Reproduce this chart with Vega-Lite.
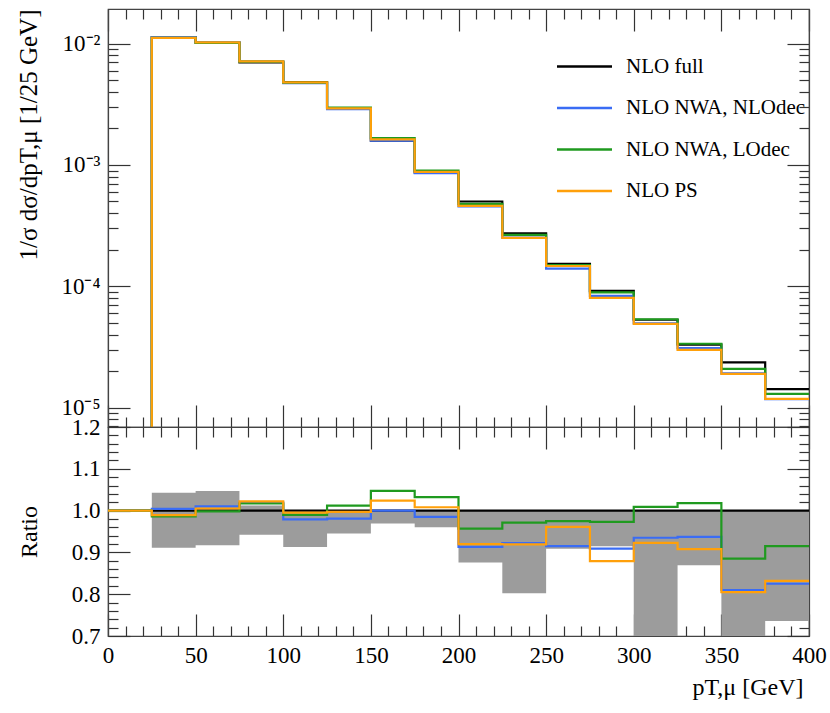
{
  "$schema": "https://vega.github.io/schema/vega-lite/v6.json",
  "background": "white",
  "padding": {"left": 15, "top": 7, "right": 10, "bottom": 10},
  "spacing": 0,
  "bounds": "flush",
  "config": {
    "font": "Liberation Serif",
    "view": {"stroke": "#444", "strokeWidth": 1.2},
    "axis": {"grid": false, "domainColor": "#444", "domainWidth": 1.2, "tickColor": "#333", "tickWidth": 1.2, "labelFontSize": 23, "titleFontSize": 24, "titleFontWeight": "normal", "labelColor": "#000", "titleColor": "#000", "labelOverlap": false, "labelFlush": false, "labelBound": false},
    "legend": {"labelFont": "Liberation Serif"}
  },
  "datasets": {
    "main": [
      {"s": "NLO full", "x": 0, "v": 1e-9, "r": 1},
      {"s": "NLO full", "x": 25, "v": 0.0113, "r": 1},
      {"s": "NLO full", "x": 50, "v": 0.01018, "r": 1},
      {"s": "NLO full", "x": 75, "v": 0.0070, "r": 1},
      {"s": "NLO full", "x": 100, "v": 0.00482, "r": 1},
      {"s": "NLO full", "x": 125, "v": 0.00294, "r": 1},
      {"s": "NLO full", "x": 150, "v": 0.00159, "r": 1},
      {"s": "NLO full", "x": 175, "v": 0.00087, "r": 1},
      {"s": "NLO full", "x": 200, "v": 0.0005, "r": 1},
      {"s": "NLO full", "x": 225, "v": 0.000273, "r": 1},
      {"s": "NLO full", "x": 250, "v": 0.000153, "r": 1},
      {"s": "NLO full", "x": 275, "v": 0.0000915, "r": 1},
      {"s": "NLO full", "x": 300, "v": 0.000053, "r": 1},
      {"s": "NLO full", "x": 325, "v": 0.000033, "r": 1},
      {"s": "NLO full", "x": 350, "v": 0.0000236, "r": 1},
      {"s": "NLO full", "x": 375, "v": 0.0000142, "r": 1},
      {"s": "NLO full", "x": 400, "v": 0.0000142, "r": 1},
      {"s": "NLO NWA, NLOdec", "x": 0, "v": 1e-9, "r": 1},
      {"s": "NLO NWA, NLOdec", "x": 25, "v": 0.011345, "r": 1.004},
      {"s": "NLO NWA, NLOdec", "x": 50, "v": 0.010282, "r": 1.010},
      {"s": "NLO NWA, NLOdec", "x": 75, "v": 0.007133, "r": 1.019},
      {"s": "NLO NWA, NLOdec", "x": 100, "v": 0.004719, "r": 0.979},
      {"s": "NLO NWA, NLOdec", "x": 125, "v": 0.002884, "r": 0.981},
      {"s": "NLO NWA, NLOdec", "x": 150, "v": 0.00159, "r": 1.0},
      {"s": "NLO NWA, NLOdec", "x": 175, "v": 0.000857, "r": 0.985},
      {"s": "NLO NWA, NLOdec", "x": 200, "v": 0.0004565, "r": 0.913},
      {"s": "NLO NWA, NLOdec", "x": 225, "v": 0.0002517, "r": 0.922},
      {"s": "NLO NWA, NLOdec", "x": 250, "v": 0.00014, "r": 0.915},
      {"s": "NLO NWA, NLOdec", "x": 275, "v": 0.0000832, "r": 0.909},
      {"s": "NLO NWA, NLOdec", "x": 300, "v": 0.00004956, "r": 0.935},
      {"s": "NLO NWA, NLOdec", "x": 325, "v": 0.00003092, "r": 0.937},
      {"s": "NLO NWA, NLOdec", "x": 350, "v": 0.00001912, "r": 0.810},
      {"s": "NLO NWA, NLOdec", "x": 375, "v": 0.00001172, "r": 0.825},
      {"s": "NLO NWA, NLOdec", "x": 400, "v": 0.00001172, "r": 0.825},
      {"s": "NLO NWA, LOdec", "x": 0, "v": 1e-9, "r": 1},
      {"s": "NLO NWA, LOdec", "x": 25, "v": 0.011142, "r": 0.986},
      {"s": "NLO NWA, LOdec", "x": 50, "v": 0.01016, "r": 0.998},
      {"s": "NLO NWA, LOdec", "x": 75, "v": 0.007119, "r": 1.017},
      {"s": "NLO NWA, LOdec", "x": 100, "v": 0.004772, "r": 0.990},
      {"s": "NLO NWA, LOdec", "x": 125, "v": 0.002975, "r": 1.012},
      {"s": "NLO NWA, LOdec", "x": 150, "v": 0.001665, "r": 1.047},
      {"s": "NLO NWA, LOdec", "x": 175, "v": 0.000898, "r": 1.032},
      {"s": "NLO NWA, LOdec", "x": 200, "v": 0.0004785, "r": 0.957},
      {"s": "NLO NWA, LOdec", "x": 225, "v": 0.0002651, "r": 0.971},
      {"s": "NLO NWA, LOdec", "x": 250, "v": 0.0001492, "r": 0.975},
      {"s": "NLO NWA, LOdec", "x": 275, "v": 0.000089, "r": 0.973},
      {"s": "NLO NWA, LOdec", "x": 300, "v": 0.00005348, "r": 1.009},
      {"s": "NLO NWA, LOdec", "x": 325, "v": 0.00003359, "r": 1.018},
      {"s": "NLO NWA, LOdec", "x": 350, "v": 0.00002089, "r": 0.885},
      {"s": "NLO NWA, LOdec", "x": 375, "v": 0.00001299, "r": 0.915},
      {"s": "NLO NWA, LOdec", "x": 400, "v": 0.00001299, "r": 0.915},
      {"s": "NLO PS", "x": 0, "v": 1e-9, "r": 1},
      {"s": "NLO PS", "x": 25, "v": 0.011176, "r": 0.989},
      {"s": "NLO PS", "x": 50, "v": 0.010231, "r": 1.005},
      {"s": "NLO PS", "x": 75, "v": 0.007154, "r": 1.022},
      {"s": "NLO PS", "x": 100, "v": 0.004796, "r": 0.995},
      {"s": "NLO PS", "x": 125, "v": 0.002931, "r": 0.997},
      {"s": "NLO PS", "x": 150, "v": 0.001628, "r": 1.024},
      {"s": "NLO PS", "x": 175, "v": 0.000877, "r": 1.008},
      {"s": "NLO PS", "x": 200, "v": 0.00046, "r": 0.920},
      {"s": "NLO PS", "x": 225, "v": 0.0002509, "r": 0.919},
      {"s": "NLO PS", "x": 250, "v": 0.000147, "r": 0.961},
      {"s": "NLO PS", "x": 275, "v": 0.0000804, "r": 0.879},
      {"s": "NLO PS", "x": 300, "v": 0.00004892, "r": 0.923},
      {"s": "NLO PS", "x": 325, "v": 0.00002996, "r": 0.908},
      {"s": "NLO PS", "x": 350, "v": 0.000019, "r": 0.805},
      {"s": "NLO PS", "x": 375, "v": 0.00001181, "r": 0.832},
      {"s": "NLO PS", "x": 400, "v": 0.00001181, "r": 0.832}
    ],
    "band": [
      {"x": 25, "lo": 0.911, "hi": 1.043},
      {"x": 50, "lo": 0.917, "hi": 1.047},
      {"x": 75, "lo": 0.942, "hi": 1.012},
      {"x": 100, "lo": 0.913, "hi": 1.0},
      {"x": 125, "lo": 0.945, "hi": 1.0},
      {"x": 150, "lo": 0.969, "hi": 1.0},
      {"x": 175, "lo": 0.960, "hi": 1.0},
      {"x": 200, "lo": 0.876, "hi": 1.0},
      {"x": 225, "lo": 0.802, "hi": 1.0},
      {"x": 250, "lo": 0.909, "hi": 1.0},
      {"x": 275, "lo": 0.915, "hi": 1.0},
      {"x": 300, "lo": 0.6, "hi": 1.0},
      {"x": 325, "lo": 0.869, "hi": 1.0},
      {"x": 350, "lo": 0.6, "hi": 1.0},
      {"x": 375, "lo": 0.736, "hi": 1.0},
      {"x": 400, "lo": 0.736, "hi": 1.0}
    ]
  },
  "vconcat": [
    {
      "width": 701,
      "height": 418,
      "data": {"name": "main"},
      "resolve": {"axis": {"x": "independent", "y": "independent"}},
      "layer": [
        {
          "mark": {"type": "line", "interpolate": "step-after", "strokeWidth": 2.2, "clip": true},
          "encoding": {
            "x": {"field": "x", "type": "quantitative", "scale": {"domain": [0, 400], "nice": false, "zero": false},
              "axis": {"orient": "bottom", "values": [0,10,20,30,40,50,60,70,80,90,100,110,120,130,140,150,160,170,180,190,200,210,220,230,240,250,260,270,280,290,300,310,320,330,340,350,360,370,380,390,400], "labels": false, "title": null,
                "tickSize": {"condition": {"test": "datum.value % 50 == 0", "value": -22}, "value": -10}}},
            "y": {"field": "v", "type": "quantitative", "scale": {"type": "log", "domain": [0.00000692, 0.0193], "nice": false},
              "axis": {"orient": "left", "values": [0.000007,0.000008,0.000009,0.00001,0.00002,0.00003,0.00004,0.00005,0.00006,0.00007,0.00008,0.00009,0.0001,0.0002,0.0003,0.0004,0.0005,0.0006,0.0007,0.0008,0.0009,0.001,0.002,0.003,0.004,0.005,0.006,0.007,0.008,0.009,0.01],
                "tickSize": {"condition": {"test": "abs(log(datum.value)/LN10 - round(log(datum.value)/LN10)) < 0.001", "value": -22}, "value": -10},
                "labelExpr": "datum.value == 0.01 ? '10⁻²' : datum.value == 0.001 ? '10⁻³' : datum.value == 0.0001 ? '10⁻⁴' : datum.value == 0.00001 ? '10⁻⁵' : ''",
                "labelPadding": 30,
                "title": "1/σ dσ/dpT,μ [1/25 GeV]", "titleFontSize": 25, "titleAnchor": "end", "titleX": -80, "titleY": 0, "titleBaseline": "middle", "titleAngle": -90, "titleAlign": "right"}},
            "color": {"field": "s", "type": "nominal", "sort": null,
              "scale": {"domain": ["NLO full", "NLO NWA, NLOdec", "NLO NWA, LOdec", "NLO PS"], "range": ["#000000", "#3a6cf4", "#1f9a1f", "#ffa00a"]},
              "legend": {"title": null, "orient": "none", "legendX": 466, "legendY": 47, "symbolType": "M-5,0H5", "symbolSize": 121, "symbolStrokeWidth": 2.5, "labelFontSize": 21, "labelOffset": 31, "rowPadding": 19.5, "labelLimit": 400}}
          }
        },
        {
          "mark": {"type": "point", "opacity": 0, "clip": true},
          "encoding": {
            "x": {"field": "x", "type": "quantitative",
              "axis": {"orient": "top", "values": [0,10,20,30,40,50,60,70,80,90,100,110,120,130,140,150,160,170,180,190,200,210,220,230,240,250,260,270,280,290,300,310,320,330,340,350,360,370,380,390,400], "labels": false, "title": null,
                "tickSize": {"condition": {"test": "datum.value % 50 == 0", "value": -22}, "value": -10}}},
            "y": {"field": "v", "type": "quantitative",
              "axis": {"orient": "right", "values": [0.000007,0.000008,0.000009,0.00001,0.00002,0.00003,0.00004,0.00005,0.00006,0.00007,0.00008,0.00009,0.0001,0.0002,0.0003,0.0004,0.0005,0.0006,0.0007,0.0008,0.0009,0.001,0.002,0.003,0.004,0.005,0.006,0.007,0.008,0.009,0.01], "labels": false, "title": null,
                "tickSize": {"condition": {"test": "abs(log(datum.value)/LN10 - round(log(datum.value)/LN10)) < 0.001", "value": -22}, "value": -10}}}
          }
        }
      ]
    },
    {
      "width": 701,
      "height": 209,
      "resolve": {"axis": {"x": "independent", "y": "independent"}},
      "layer": [
        {
          "data": {"name": "band"},
          "mark": {"type": "area", "interpolate": "step-after", "color": "#9c9c9c", "opacity": 1, "clip": true},
          "encoding": {
            "x": {"field": "x", "type": "quantitative", "scale": {"domain": [0, 400], "nice": false, "zero": false},
              "axis": {"orient": "bottom", "values": [0,10,20,30,40,50,60,70,80,90,100,110,120,130,140,150,160,170,180,190,200,210,220,230,240,250,260,270,280,290,300,310,320,330,340,350,360,370,380,390,400],
                "labelExpr": "datum.value % 50 == 0 ? datum.label : ''", "labelPadding": 30,
                "tickSize": {"condition": {"test": "datum.value % 50 == 0", "value": -22}, "value": -10},
                "title": "pT,μ [GeV]", "titleAnchor": "end", "titleX": 695, "titleY": 58, "titleAlign": "right", "titleBaseline": "alphabetic"}},
            "y": {"field": "lo", "type": "quantitative", "scale": {"domain": [0.7, 1.2], "nice": false, "zero": false},
              "axis": {"orient": "left", "values": [0.7,0.72,0.74,0.76,0.78,0.8,0.82,0.84,0.86,0.88,0.9,0.92,0.94,0.96,0.98,1,1.02,1.04,1.06,1.08,1.1,1.12,1.14,1.16,1.18,1.2],
                "tickSize": {"condition": {"test": "abs(datum.value*10 - round(datum.value*10)) < 0.001", "value": -22}, "value": -10},
                "labelExpr": "abs(datum.value*10 - round(datum.value*10)) < 0.001 ? format(datum.value, '.1f') : ''",
                "labelPadding": 30,
                "title": "Ratio", "titleX": -79, "titleBaseline": "middle", "titleAngle": -90}},
            "y2": {"field": "hi"}
          }
        },
        {
          "data": {"name": "main"},
          "mark": {"type": "line", "interpolate": "step-after", "strokeWidth": 2.2, "clip": true},
          "encoding": {
            "x": {"field": "x", "type": "quantitative", "axis": null},
            "y": {"field": "r", "type": "quantitative", "axis": null},
            "color": {"field": "s", "type": "nominal", "sort": null, "legend": null}
          }
        },
        {
          "data": {"name": "band"},
          "mark": {"type": "point", "opacity": 0, "clip": true},
          "encoding": {
            "x": {"field": "x", "type": "quantitative",
              "axis": {"orient": "top", "values": [0,10,20,30,40,50,60,70,80,90,100,110,120,130,140,150,160,170,180,190,200,210,220,230,240,250,260,270,280,290,300,310,320,330,340,350,360,370,380,390,400], "labels": false, "title": null,
                "tickSize": {"condition": {"test": "datum.value % 50 == 0", "value": -22}, "value": -10}}},
            "y": {"field": "lo", "type": "quantitative",
              "axis": {"orient": "right", "values": [0.7,0.72,0.74,0.76,0.78,0.8,0.82,0.84,0.86,0.88,0.9,0.92,0.94,0.96,0.98,1,1.02,1.04,1.06,1.08,1.1,1.12,1.14,1.16,1.18,1.2], "labels": false, "title": null,
                "tickSize": {"condition": {"test": "abs(datum.value*10 - round(datum.value*10)) < 0.001", "value": -22}, "value": -10}}}
          }
        }
      ]
    }
  ]
}
